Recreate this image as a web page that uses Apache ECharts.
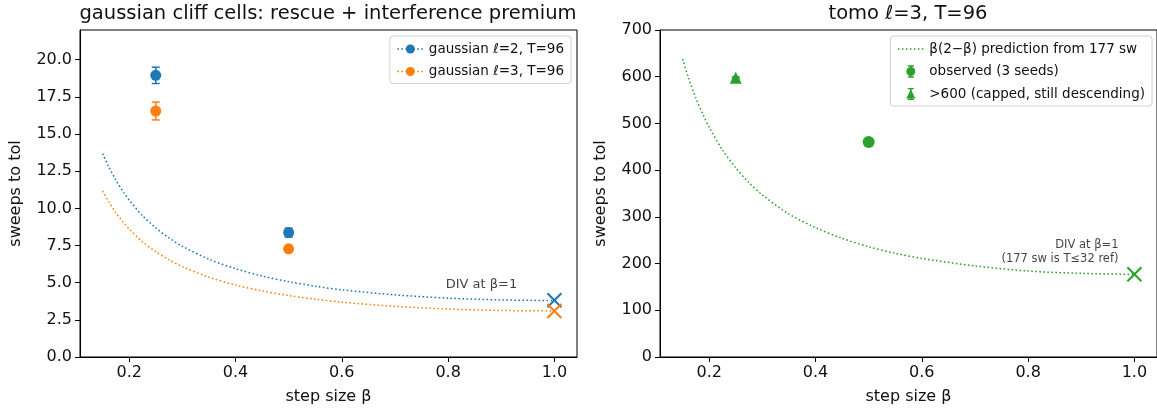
<!DOCTYPE html>
<html>
<head>
<meta charset="utf-8">
<title>gaussian cliff cells</title>
<script src="https://cdn.jsdelivr.net/npm/echarts@6/dist/echarts.min.js"></script>
<style>
    html, body { margin: 0; padding: 0; background: #fff; }
    #chart { width: 1157px; height: 411px; }
</style>
</head>
<body>
<div id="chart"></div>
<script>
// prediction curves
var betaCurve = [0.15, 0.16, 0.175, 0.19, 0.2, 0.225, 0.25, 0.275, 0.3, 0.35, 0.4, 0.45, 0.5, 0.55, 0.6, 0.7, 0.8, 0.9, 1.0];
var blueCurve = [13.69, 12.91, 11.90, 11.05, 10.56, 9.51, 8.69, 8.01, 7.45, 6.58, 5.94, 5.45, 5.07, 4.76, 4.52, 4.18, 3.96, 3.84, 3.80];
var orangeCurve = [11.17, 10.53, 9.71, 9.01, 8.61, 7.76, 7.09, 6.53, 6.08, 5.37, 4.84, 4.45, 4.13, 3.89, 3.69, 3.41, 3.23, 3.13, 3.10];
var greenCurve = [638, 601, 554, 515, 492, 443, 405, 373, 347, 306, 277, 254, 236, 222, 211, 195, 184, 179, 177];

// observed points
var betaObs = [0.25, 0.5];
var blueObs = [18.95, 8.37];
var blueErr = [0.55, 0.3];
var orangeObs = [16.55, 7.28];
var orangeErr = [0.6, 0.15];
var tomoObsBeta = [0.5];
var tomoObs = [460];
var tomoObsErr = [3];
var tomoCapBeta = [0.25];
var tomoCap = [598];
var tomoCapErr = [2];

// diverged at beta=1
var divBeta = [1.0];
var blueDiv = [3.82];
var orangeDiv = [3.1];
var tomoDiv = [177];

// ticks
var xTicks = [0.2, 0.4, 0.6, 0.8, 1.0];
var yTicksLeft = [0, 2.5, 5, 7.5, 10, 12.5, 15, 17.5, 20];
var yTicksRight = [0, 100, 200, 300, 400, 500, 600, 700];

var BLUE = '#1f77b4', ORANGE = '#ff7f0e', GREEN = '#2ca02c';
var FONT = '"DejaVu Sans", sans-serif';
var TXT = '#111';

function pairs(xs, ys) {
    var out = [];
    for (var i = 0; i < xs.length; i++) out.push([xs[i], ys[i]]);
    return out;
}
function triples(xs, ys, es) {
    var out = [];
    for (var i = 0; i < xs.length; i++) out.push([xs[i], ys[i], es[i]]);
    return out;
}

// legend handles drawn like matplotlib's, as small svg images
function svgIcon(body) {
    var s = '<svg xmlns="http://www.w3.org/2000/svg" width="27" height="13" viewBox="0 0 27 13">' + body + '</svg>';
    return 'image://data:image/svg+xml;charset=utf-8,' + encodeURIComponent(s);
}
function dots(c) {
    var b = '';
    for (var x = 0.5; x < 27; x += 4) b += '<rect x="' + x + '" y="5.75" width="1.6" height="1.5" fill="' + c + '"/>';
    return b;
}
function capsBar(c) {
    return '<line x1="13.5" y1="1" x2="13.5" y2="12" stroke="' + c + '" stroke-width="1.5"/>' +
        '<line x1="10.5" y1="1" x2="16.5" y2="1" stroke="' + c + '" stroke-width="1.5"/>' +
        '<line x1="10.5" y1="12" x2="16.5" y2="12" stroke="' + c + '" stroke-width="1.5"/>';
}
var iconBlue = svgIcon(dots(BLUE) + '<circle cx="13.5" cy="6.5" r="4.5" fill="' + BLUE + '"/>');
var iconOrange = svgIcon(dots(ORANGE) + '<circle cx="13.5" cy="6.5" r="4.5" fill="' + ORANGE + '"/>');
var iconGreenLine = svgIcon(dots(GREEN));
var iconGreenObs = svgIcon(capsBar(GREEN) + '<circle cx="13.5" cy="6.5" r="4.5" fill="' + GREEN + '"/>');
var iconGreenCap = svgIcon(capsBar(GREEN) + '<polygon points="13.5,1.8 18,11 9,11" fill="' + GREEN + '"/>');

function errRender(params, api) {
    var x = api.value(0), y = api.value(1), e = api.value(2);
    var top = api.coord([x, y + e]);
    var bot = api.coord([x, y - e]);
    var w = 4;
    var st = {stroke: api.visual('color'), lineWidth: 1.5};
    return {
        type: 'group', children: [
            {type: 'line', shape: {x1: top[0], y1: top[1], x2: bot[0], y2: bot[1]}, style: st},
            {type: 'line', shape: {x1: top[0] - w, y1: top[1], x2: top[0] + w, y2: top[1]}, style: st},
            {type: 'line', shape: {x1: bot[0] - w, y1: bot[1], x2: bot[0] + w, y2: bot[1]}, style: st}
        ]
    };
}
function crossRender(params, api) {
    var p = api.coord([api.value(0), api.value(1)]);
    var h = 7;
    var st = {stroke: api.visual('color'), lineWidth: 2};
    return {
        type: 'group', children: [
            {type: 'line', shape: {x1: p[0] - h, y1: p[1] - h, x2: p[0] + h, y2: p[1] + h}, style: st},
            {type: 'line', shape: {x1: p[0] - h, y1: p[1] + h, x2: p[0] + h, y2: p[1] - h}, style: st}
        ]
    };
}

function xAxisFor(idx) {
    return {
        type: 'value', gridIndex: idx, min: 0.1075, max: 1.0425,
        name: 'step size β', nameLocation: 'middle', nameGap: 32,
        nameTextStyle: {fontFamily: FONT, fontSize: 16, color: TXT},
        axisLine: {show: true, lineStyle: {color: '#000', width: 1}},
        axisTick: {show: true, length: 5, customValues: xTicks, lineStyle: {color: '#000'}},
        axisLabel: {customValues: xTicks, margin: 8, fontFamily: FONT, fontSize: 16, color: TXT,
            formatter: function (v) { return v.toFixed(1); }},
        splitLine: {show: false}
    };
}
function yAxisFor(idx, max, ticks, digits, gap) {
    return {
        type: 'value', gridIndex: idx, min: 0, max: max,
        name: 'sweeps to tol', nameLocation: 'middle', nameGap: gap,
        nameTextStyle: {fontFamily: FONT, fontSize: 16, color: TXT},
        axisLine: {show: true, lineStyle: {color: '#000', width: 1}},
        axisTick: {show: true, length: 5, customValues: ticks, lineStyle: {color: '#000'}},
        axisLabel: {customValues: ticks, margin: 8, fontFamily: FONT, fontSize: 16, color: TXT,
            formatter: function (v) { return v.toFixed(digits); }},
        splitLine: {show: false}
    };
}

var curveStyle = function (c) {
    return {color: c, width: 1.5, type: [1.6, 2.4], cap: 'butt'};
};
var legendBase = {
    orient: 'vertical', itemWidth: 27, itemHeight: 13, itemGap: 8.5,
    padding: [6, 7, 5, 7], backgroundColor: '#fff', borderColor: '#d0d0d0', borderWidth: 1, borderRadius: 3,
    textStyle: {fontFamily: FONT, fontSize: 13.5, color: TXT}
};

var option = {
    animation: false,
    backgroundColor: '#fff',
    graphic: [
        {type: 'text', x: 328, y: 4, style: {text: 'gaussian cliff cells: rescue + interference premium',
            font: '19.5px ' + FONT, fill: TXT, align: 'center', textAlign: 'center'}},
        {type: 'text', x: 908, y: 4, style: {text: 'tomo ℓ=3, T=96',
            font: '19.5px ' + FONT, fill: TXT, align: 'center', textAlign: 'center'}}
    ],
    grid: [
        {left: 80, top: 30, width: 497, height: 327, show: true, borderColor: '#000', borderWidth: 1, backgroundColor: 'transparent'},
        {left: 660, top: 30, width: 497, height: 327, show: true, borderColor: '#000', borderWidth: 1, backgroundColor: 'transparent'}
    ],
    xAxis: [xAxisFor(0), xAxisFor(1)],
    yAxis: [yAxisFor(0, 22, yTicksLeft, 1, 56), yAxisFor(1, 700, yTicksRight, 0, 51)],
    legend: [
        Object.assign({}, legendBase, {
            right: 586, top: 36,
            data: [{name: 'gaussian ℓ=2, T=96', icon: iconBlue}, {name: 'gaussian ℓ=3, T=96', icon: iconOrange}]
        }),
        Object.assign({}, legendBase, {
            right: 5, top: 36,
            data: [{name: 'β(2−β) prediction from 177 sw', icon: iconGreenLine},
                {name: 'observed (3 seeds)', icon: iconGreenObs},
                {name: '>600 (capped, still descending)', icon: iconGreenCap}]
        })
    ],
    series: [
        // left panel
        {name: 'gaussian ℓ=2, T=96', type: 'line', xAxisIndex: 0, yAxisIndex: 0,
            data: pairs(betaCurve, blueCurve), smooth: 0.3, showSymbol: false,
            itemStyle: {color: BLUE}, lineStyle: curveStyle(BLUE), z: 1},
        {name: 'gaussian ℓ=3, T=96', type: 'line', xAxisIndex: 0, yAxisIndex: 0,
            data: pairs(betaCurve, orangeCurve), smooth: 0.3, showSymbol: false,
            itemStyle: {color: ORANGE}, lineStyle: curveStyle(ORANGE), z: 1},
        {name: 'blueErr', type: 'custom', xAxisIndex: 0, yAxisIndex: 0, renderItem: errRender,
            data: triples(betaObs, blueObs, blueErr), itemStyle: {color: BLUE}, encode: {x: 0, y: 1}, z: 2},
        {name: 'orangeErr', type: 'custom', xAxisIndex: 0, yAxisIndex: 0, renderItem: errRender,
            data: triples(betaObs, orangeObs, orangeErr), itemStyle: {color: ORANGE}, encode: {x: 0, y: 1}, z: 2},
        {name: 'blueObs', type: 'scatter', xAxisIndex: 0, yAxisIndex: 0, data: pairs(betaObs, blueObs),
            symbol: 'circle', symbolSize: 11, itemStyle: {color: BLUE, opacity: 1}, z: 3},
        {name: 'orangeObs', type: 'scatter', xAxisIndex: 0, yAxisIndex: 0, data: pairs(betaObs, orangeObs),
            symbol: 'circle', symbolSize: 11, itemStyle: {color: ORANGE, opacity: 1}, z: 3},
        {name: 'blueDiv', type: 'custom', xAxisIndex: 0, yAxisIndex: 0, renderItem: crossRender,
            data: pairs(divBeta, blueDiv), itemStyle: {color: BLUE}, encode: {x: 0, y: 1}, z: 4},
        {name: 'orangeDiv', type: 'custom', xAxisIndex: 0, yAxisIndex: 0, renderItem: crossRender,
            data: pairs(divBeta, orangeDiv), itemStyle: {color: ORANGE}, encode: {x: 0, y: 1}, z: 4},
        {name: 'noteL', type: 'scatter', xAxisIndex: 0, yAxisIndex: 0, data: [[0.93, 4.9]],
            symbolSize: 0, silent: true,
            label: {show: true, position: 'left', distance: 0, formatter: 'DIV at β=1',
                fontFamily: FONT, fontSize: 13, color: TXT}},

        // right panel
        {name: 'β(2−β) prediction from 177 sw', type: 'line', xAxisIndex: 1, yAxisIndex: 1,
            data: pairs(betaCurve, greenCurve), smooth: 0.3, showSymbol: false,
            itemStyle: {color: GREEN}, lineStyle: curveStyle(GREEN), z: 1},
        {name: 'obsErr', type: 'custom', xAxisIndex: 1, yAxisIndex: 1, renderItem: errRender,
            data: triples(tomoObsBeta, tomoObs, tomoObsErr), itemStyle: {color: GREEN}, encode: {x: 0, y: 1}, z: 2},
        {name: 'capErr', type: 'custom', xAxisIndex: 1, yAxisIndex: 1, renderItem: errRender,
            data: triples(tomoCapBeta, tomoCap, tomoCapErr), itemStyle: {color: GREEN}, encode: {x: 0, y: 1}, z: 2},
        {name: 'observed (3 seeds)', type: 'scatter', xAxisIndex: 1, yAxisIndex: 1,
            data: pairs(tomoObsBeta, tomoObs), symbol: 'circle', symbolSize: 12,
            itemStyle: {color: GREEN, opacity: 1}, z: 3},
        {name: '>600 (capped, still descending)', type: 'scatter', xAxisIndex: 1, yAxisIndex: 1,
            data: pairs(tomoCapBeta, tomoCap), symbol: 'triangle', symbolSize: 12,
            itemStyle: {color: GREEN, opacity: 1}, z: 3},
        {name: 'tomoDiv', type: 'custom', xAxisIndex: 1, yAxisIndex: 1, renderItem: crossRender,
            data: pairs(divBeta, tomoDiv), itemStyle: {color: GREEN}, encode: {x: 0, y: 1}, z: 4},
        {name: 'noteR', type: 'scatter', xAxisIndex: 1, yAxisIndex: 1, data: [[0.97, 225]],
            symbolSize: 0, silent: true,
            label: {show: true, position: 'left', distance: 0, formatter: 'DIV at β=1\n(177 sw is T≤32 ref)',
                align: 'right', lineHeight: 14, fontFamily: FONT, fontSize: 11.5, color: TXT}}
    ]
};

var chart = echarts.init(document.getElementById('chart'));
chart.setOption(option);
</script>
</body>
</html>
